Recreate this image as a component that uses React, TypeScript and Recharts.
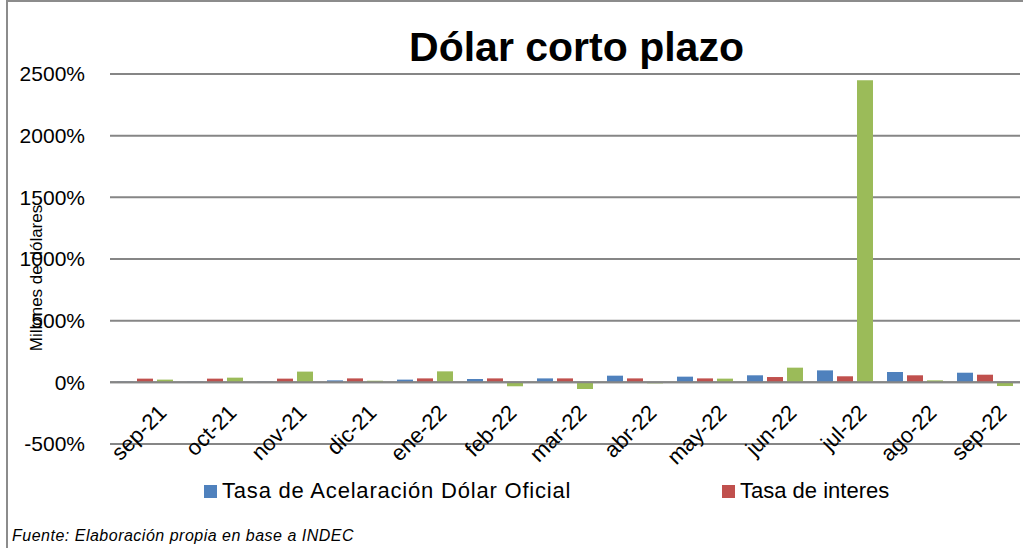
import React from 'react';
import {
  BarChart, Bar, XAxis, YAxis, CartesianGrid, ReferenceLine, Legend,
} from 'recharts';

const months = ['sep-21', 'oct-21', 'nov-21', 'dic-21', 'ene-22', 'feb-22', 'mar-22', 'abr-22', 'may-22', 'jun-22', 'jul-22', 'ago-22', 'sep-22'];
const dolarOficial = [5, 5, 5, 16, 22, 27, 32, 54, 46, 57, 97, 84, 78];
const tasaInteres = [30, 30, 30, 32, 32, 32, 32, 32, 32, 43, 49, 57, 62];
const dolarCorto = [22, 38, 87, 13, 89, -32, -54, -8, 30, 119, 2450, 16, -30];
const yTicks = [-500, 0, 500, 1000, 1500, 2000, 2500];

const data = months.map((m, i) => ({
  mes: m,
  oficial: dolarOficial[i],
  interes: tasaInteres[i],
  corto: dolarCorto[i],
}));

const FONT = '"Liberation Sans", Arial, sans-serif';
const GRID = '#868686';

// etiquetas del eje X pegadas a la línea del 0, como en Excel
const MonthTick = (props: any) => {
  const { x, y, payload } = props;
  const ax = x + 23;
  const ay = y - 30;
  return (
    <text x={ax} y={ay} transform={`rotate(-45 ${ax} ${ay})`}
      textAnchor="end" fontSize={22} fontFamily={FONT} fill="#000">
      {payload.value}
    </text>
  );
};

const YTitle = (props: any) => {
  const vb = props.viewBox;
  const cx = vb.x + 36;
  const cy = vb.y + vb.height / 2 + 19;
  return (
    <text x={cx} y={cy} transform={`rotate(-90 ${cx} ${cy})`} textAnchor="middle"
      dominantBaseline="central" fontSize={17} fontFamily={FONT} fill="#000">
      Millones de dólares
    </text>
  );
};

const sq = (c: string) => (
  <span style={{ width: 13, height: 13, background: c, display: 'inline-block', marginRight: 5 }} />
);

const LegendBox = () => (
  <div style={{ position: 'relative', height: 26, fontFamily: FONT, fontSize: 22, color: '#000' }}>
    <div style={{ position: 'absolute', left: 204, top: 0, display: 'flex', alignItems: 'center', letterSpacing: 0.8 }}>
      {sq('#4F81BD')}<span>Tasa de Acelaración Dólar Oficial</span>
    </div>
    <div style={{ position: 'absolute', left: 722, top: 0, display: 'flex', alignItems: 'center' }}>
      {sq('#C0504D')}<span>Tasa de interes</span>
    </div>
  </div>
);

export default function App() {
  return (
    <div style={{ position: 'absolute', left: 0, top: 0, width: 1023, height: 548, background: '#fff', overflow: 'hidden' }}>
      <div style={{ position: 'absolute', left: 6, top: 0, width: 1100, height: 600, borderLeft: '2px solid #8c8c8c', borderTop: '2px solid #8c8c8c' }} />
      <div style={{ position: 'absolute', left: 0, top: 24, width: 1153, textAlign: 'center', fontFamily: FONT, fontWeight: 'bold', fontSize: 41, color: '#000' }}>
        Dólar corto plazo
      </div>
      <div style={{ position: 'absolute', left: 0, top: 0 }}>
        <BarChart width={1023} height={548} data={data}
          margin={{ top: 74, right: 3, left: 0, bottom: 48 }}
          barCategoryGap="10%" barGap={4}>
          <CartesianGrid vertical={false} stroke={GRID} strokeWidth={2} />
          <XAxis dataKey="mes" height={30} axisLine={false} tickLine={false} tickSize={0} tickMargin={0}
            tick={<MonthTick />} interval={0} />
          <YAxis domain={[-500, 2500]} ticks={yTicks} width={110} axisLine={false} tickLine={false}
            tickSize={0} tickMargin={25} tickFormatter={(v: number) => `${v}%`}
            tick={{ fontSize: 21, fill: '#000', fontFamily: FONT }}
            label={<YTitle />} />
          <ReferenceLine y={0} stroke={GRID} strokeWidth={2} />
          <Legend content={<LegendBox />} wrapperStyle={{ top: 478, left: 0, width: 1023 }} />
          <Bar dataKey="oficial" name="Tasa de Acelaración Dólar Oficial" fill="#4F81BD" isAnimationActive={false} />
          <Bar dataKey="interes" name="Tasa de interes" fill="#C0504D" isAnimationActive={false} />
          <Bar dataKey="corto" name="Dólar corto plazo" fill="#9BBB59" isAnimationActive={false} />
        </BarChart>
      </div>
      <div style={{ position: 'absolute', left: 12, top: 527, fontFamily: FONT, fontStyle: 'italic', fontSize: 16, letterSpacing: 0.5, color: '#000' }}>
        Fuente: Elaboración propia  en base a INDEC
      </div>
    </div>
  );
}
